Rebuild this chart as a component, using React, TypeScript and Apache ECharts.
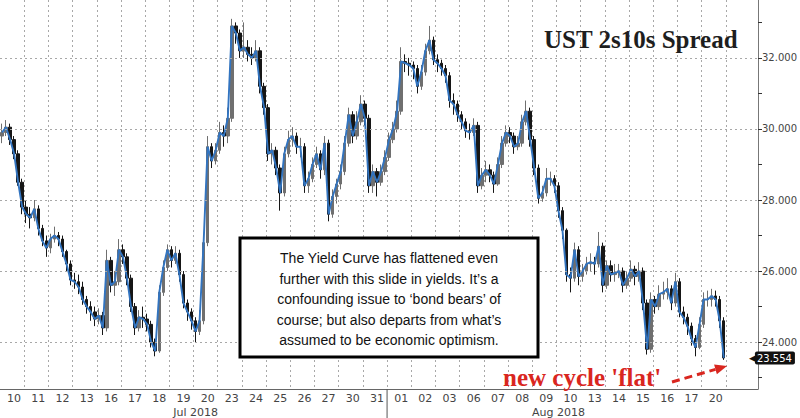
import React, { useEffect, useRef } from 'react';
import * as echarts from 'echarts';

const dayLabels = ['10','11','12','13','16','17','18','19','20','23','24','25','26','27','30','31','01','02','03','06','07','08','09','10','13','14','15','16','17','20'];
const months = [{ name: 'Jul 2018', days: 16 }, { name: 'Aug 2018', days: 14 }];
const barsPerDay = 6;
const padBars = 8;
const firstOpen = 29.8;

const closes = [
29.9,30.05,29.7,29.3,28.5,27.8,
27.6,27.5,27.75,27.2,26.85,26.65,
26.9,27.0,26.9,26.55,26.2,25.75,
25.7,25.55,25.2,25.0,24.85,24.65,
24.75,24.4,26.3,25.6,25.7,26.6,
26.4,25.8,25.0,24.4,24.7,24.65,
24.5,24.0,23.75,25.4,26.1,26.6,
26.3,26.5,25.9,25.1,24.85,24.6,
24.3,24.6,26.8,29.5,29.1,29.4,
29.9,29.8,30.3,32.9,32.7,32.2,
32.3,32.1,32.0,32.2,31.2,30.6,
29.3,29.4,28.9,28.2,29.3,29.7,
29.8,29.5,29.5,28.4,28.6,29.0,
29.3,28.85,29.6,27.6,28.1,28.45,
28.8,29.6,30.4,29.8,30.2,30.7,
30.3,28.4,28.8,28.5,28.8,29.2,
29.7,30.0,30.5,31.9,31.85,31.8,
31.7,31.2,31.6,32.2,32.5,31.95,
31.85,31.7,31.5,30.8,30.7,30.4,
30.2,29.95,29.9,30.1,28.4,28.7,
28.85,28.7,28.45,29.0,29.6,29.9,
29.8,29.5,29.6,30.2,30.5,29.7,
28.9,28.05,28.2,28.6,28.6,28.4,
27.7,27.15,25.9,25.8,26.6,25.85,
26.0,26.2,26.25,26.2,26.7,25.6,
26.15,25.9,25.95,26.0,25.6,25.8,
26.05,25.85,26.0,25.1,23.8,25.2,
25.0,25.35,25.4,25.5,25.1,25.7,
24.85,24.7,24.45,24.1,23.85,24.5,
25.2,25.2,25.3,25.2,24.6,23.554
];

const highs = [
30.15,30.25,30.15,29.8,29.4,28.6,
28.0,27.8,28.0,27.85,27.3,27.0,
27.05,27.25,27.1,27.0,26.6,26.3,
25.95,25.9,25.7,25.3,25.15,25.0,
24.95,24.85,26.6,26.4,26.0,26.9,
26.75,26.5,25.9,25.1,24.9,25.0,
24.8,24.6,24.1,25.6,26.3,26.75,
26.7,26.7,26.6,26.0,25.2,24.95,
24.7,24.9,27.0,29.8,29.6,29.6,
30.2,30.1,30.6,33.1,33.0,32.8,
33.0,32.5,32.3,32.5,32.3,31.3,
30.7,29.6,29.5,29.0,29.5,29.95,
30.05,29.9,29.75,29.6,28.8,29.2,
29.5,29.4,29.8,29.7,28.3,28.6,
29.0,29.8,30.6,30.5,30.5,30.95,
30.8,30.4,29.0,28.9,29.0,29.4,
29.9,30.2,30.8,32.3,32.1,32.0,
31.9,31.8,31.8,32.4,32.9,32.6,
32.1,31.95,31.8,31.6,31.0,30.8,
30.5,30.3,30.15,30.3,30.2,28.9,
29.1,29.0,28.8,29.2,29.8,30.1,
30.05,29.9,29.8,30.4,30.8,30.6,
29.8,29.0,28.4,28.9,28.8,28.7,
28.5,27.8,27.2,26.1,26.8,26.7,
26.2,26.4,26.5,26.4,27.1,26.8,
26.3,26.3,26.2,26.2,26.1,26.0,
26.3,26.15,26.25,26.1,25.2,25.4,
25.3,25.6,25.7,25.8,25.6,25.95,
25.8,25.0,24.8,24.55,24.2,24.7,
25.4,25.45,25.5,25.45,25.3,24.7
];

const lows = [
29.6,29.8,29.55,29.15,28.4,27.6,
27.35,27.2,27.4,27.0,26.7,26.4,
26.5,26.8,26.7,26.4,26.0,25.6,
25.5,25.35,25.05,24.8,24.6,24.45,
24.5,24.2,24.3,25.4,25.3,25.6,
26.2,25.6,24.85,24.2,24.3,24.4,
24.3,23.85,23.6,23.7,25.3,26.0,
26.1,26.2,25.7,24.95,24.6,24.35,
24.0,24.2,24.5,26.7,28.9,29.0,
29.3,29.5,29.6,30.2,32.4,32.0,
32.0,31.9,31.8,31.9,31.0,30.4,
29.1,29.0,28.7,27.7,28.1,29.2,
29.5,29.3,29.2,28.2,28.2,28.5,
28.9,28.6,28.7,27.4,27.5,27.9,
28.3,28.7,29.5,29.6,29.7,30.1,
30.1,28.2,28.2,28.1,28.4,28.7,
29.1,29.6,29.9,30.4,31.6,31.5,
31.4,31.0,31.1,31.5,32.1,31.8,
31.6,31.5,31.3,30.6,30.4,30.2,
30.0,29.75,29.7,29.8,28.2,28.3,
28.5,28.5,28.2,28.4,28.9,29.5,
29.6,29.3,29.4,29.5,30.1,29.5,
28.7,27.9,27.95,28.1,28.4,28.2,
27.5,26.9,25.7,25.4,25.7,25.6,
25.7,25.9,26.0,25.9,26.1,25.4,
25.5,25.7,25.7,25.8,25.4,25.5,
25.7,25.6,25.7,24.9,23.65,23.7,
24.8,24.9,25.2,25.2,24.9,25.0,
24.7,24.5,24.2,23.9,23.6,23.8,
24.4,25.0,25.0,25.0,24.4,23.5
];

const yMin = 22.68;
const yMax = 33.63;
const yLabelValues = [24, 26, 28, 30, 32];
const yTickValues = [23, 24, 25, 26, 27, 28, 29, 30, 31, 32, 33];

const titleText = 'UST 2s10s Spread';
const noteLines = [
  'The Yield Curve has flattened even',
  "further with this slide in yields. It\u2019s a",
  "confounding issue to \u2018bond bears\u2019 of",
  "course; but also departs from what\u2019s",
  'assumed to be economic optimism.',
];
const calloutText = "new cycle 'flat'";

export default function App() {
  const ref = useRef<HTMLDivElement>(null);

  useEffect(() => {
    if (!ref.current) return;
    const chart = echarts.init(ref.current, null, { renderer: 'svg' });
    const n = closes.length;
    const lastClose = closes[n - 1];
    const cats: string[] = [];
    for (let i = 0; i < n + padBars; i++) cats.push('c' + i);
    const candles = closes.map((c, i) => [i === 0 ? firstOpen : closes[i - 1], c, lows[i], highs[i]]);

    const monthCenters: Record<number, string> = {};
    const monthStarts: number[] = [];
    let start = 0;
    months.forEach((m, k) => {
      const len = m.days * barsPerDay;
      monthCenters[start + len / 2] = m.name;
      if (k > 0) monthStarts.push(start);
      start += len;
    });

    chart.setOption({
      animation: false,
      backgroundColor: '#ffffff',
      title: {
        text: titleText,
        left: 539,
        top: 22,
        textStyle: { fontFamily: 'Liberation Serif', fontWeight: 'bold', fontSize: 25, color: '#1e1e1e' },
      },
      grid: { left: 0, right: 39, top: 0, bottom: 29 },
      xAxis: [
        {
          type: 'category',
          data: cats,
          boundaryGap: true,
          axisLine: { show: true, lineStyle: { color: '#666', width: 1 } },
          axisTick: { show: false },
          axisLabel: {
            interval: (i: number) => i % barsPerDay === 3 && i < n,
            formatter: (_v: string, i: number) => dayLabels[Math.floor(i / barsPerDay)] ?? '',
            color: '#444',
            fontSize: 11,
            fontFamily: 'DejaVu Sans',
            margin: 4,
          },
          splitLine: {
            show: true,
            interval: (i: number) => i % barsPerDay === 0 && i > 0 && i <= n,
            lineStyle: { type: [2, 3], color: '#a8a8a8', width: 1 },
          },
        },
        {
          type: 'category',
          data: cats,
          position: 'bottom',
          offset: 14,
          boundaryGap: true,
          axisLine: { show: false },
          axisTick: { show: false },
          splitLine: { show: false },
          axisLabel: {
            interval: (i: number) => monthCenters[i] !== undefined,
            formatter: (_v: string, i: number) => monthCenters[i] ?? '',
            color: '#444',
            fontSize: 11,
            fontFamily: 'DejaVu Sans',
            margin: 4,
          },
        },
      ],
      yAxis: {
        type: 'value',
        position: 'right',
        min: yMin,
        max: yMax,
        axisLine: { show: true, lineStyle: { color: '#777', width: 1 } },
        axisTick: { show: true, customValues: yTickValues, length: 4, lineStyle: { color: '#333', width: 1 } },
        axisLabel: {
          customValues: yLabelValues,
          formatter: (v: number) => v.toFixed(3),
          color: '#444',
          fontSize: 10,
          fontFamily: 'DejaVu Sans',
          margin: 4,
        },
        splitLine: { show: false },
      },
      series: [
        {
          type: 'candlestick',
          data: candles,
          barWidth: 3,
          itemStyle: {
            color: '#6f6f6f',
            color0: '#161616',
            borderColor: '#6f6f6f',
            borderColor0: '#161616',
            borderWidth: 1,
          },
          markLine: {
            silent: true,
            symbol: ['none', 'none'],
            label: { show: false },
            lineStyle: { type: [2, 3], color: '#a8a8a8', width: 1 },
            data: yLabelValues.map((v) => ({ yAxis: v })),
          },
        },
        {
          type: 'line',
          data: closes,
          symbol: 'none',
          lineStyle: { color: '#3274c0', width: 1.9 },
          z: 3,
          markLine: {
            silent: true,
            precision: 3,
            symbol: ['none', 'none'],
            lineStyle: { color: 'rgba(0,0,0,0)', width: 0 },
            data: [{ yAxis: lastClose }],
            label: {
              show: true,
              position: 'end',
              distance: -9,
              formatter: () => '{a|\u25C0}{b|' + lastClose.toFixed(3) + '}',
              rich: {
                a: { color: '#111', fontSize: 9, fontFamily: 'DejaVu Sans', padding: [0, -1, 0, 0] },
                b: {
                  backgroundColor: '#111',
                  color: '#fff',
                  padding: [2, 3, 1, 2],
                  borderRadius: 2,
                  fontSize: 10,
                  fontFamily: 'DejaVu Sans',
                },
              },
            },
          },
        },
      ],
    });

    const p0 = chart.convertToPixel({ xAxisIndex: 0 }, 0) as number;
    const p1 = chart.convertToPixel({ xAxisIndex: 0 }, 1) as number;
    const band = p1 - p0;
    const axisY = chart.convertToPixel({ yAxisIndex: 0 }, yMin) as number;
    const separators = monthStarts.map((idx) => {
      const x = (chart.convertToPixel({ xAxisIndex: 0 }, idx) as number) - band / 2;
      return {
        type: 'line',
        z: 50,
        shape: { x1: x, y1: axisY, x2: x, y2: axisY + 32 },
        style: { stroke: '#555', lineWidth: 1 },
      };
    });

    const red = '#d9261f';
    const ax0 = 672, ay0 = 382, ax1 = 727, ay1 = 366;
    const dx = ax1 - ax0, dy = ay1 - ay0;
    const L = Math.sqrt(dx * dx + dy * dy);
    const ux = dx / L, uy = dy / L;
    const bx = ax1 - ux * 12, by = ay1 - uy * 12;
    const px = -uy * 5, py = ux * 5;

    chart.setOption({
      graphic: [
        ...separators,
        {
          type: 'rect',
          z: 100,
          shape: { x: 240, y: 238, width: 298, height: 119 },
          style: { fill: '#fff', stroke: '#000', lineWidth: 3 },
        },
        {
          type: 'text',
          z: 101,
          x: 389,
          y: 248,
          style: {
            text: noteLines.join('\n'),
            textAlign: 'center',
            textVerticalAlign: 'top',
            fontFamily: 'Liberation Sans',
            fontSize: 14,
            lineHeight: 20.5,
            fill: '#111',
          },
        },
        {
          type: 'text',
          z: 101,
          x: 503,
          y: 377,
          style: {
            text: calloutText,
            textVerticalAlign: 'middle',
            fontFamily: 'Liberation Serif',
            fontWeight: 'bold',
            fontSize: 25,
            fill: red,
          },
        },
        {
          type: 'line',
          z: 101,
          shape: { x1: ax0, y1: ay0, x2: bx, y2: by },
          style: { stroke: red, lineWidth: 3, lineDash: [8, 5] },
        },
        {
          type: 'polygon',
          z: 101,
          shape: { points: [[ax1, ay1], [bx + px, by + py], [bx - px, by - py]] },
          style: { fill: red },
        },
      ],
    });
    return () => chart.dispose();
  }, []);

  return <div ref={ref} style={{ position: 'fixed', left: 0, top: 0, width: 800, height: 418 }} />;
}
